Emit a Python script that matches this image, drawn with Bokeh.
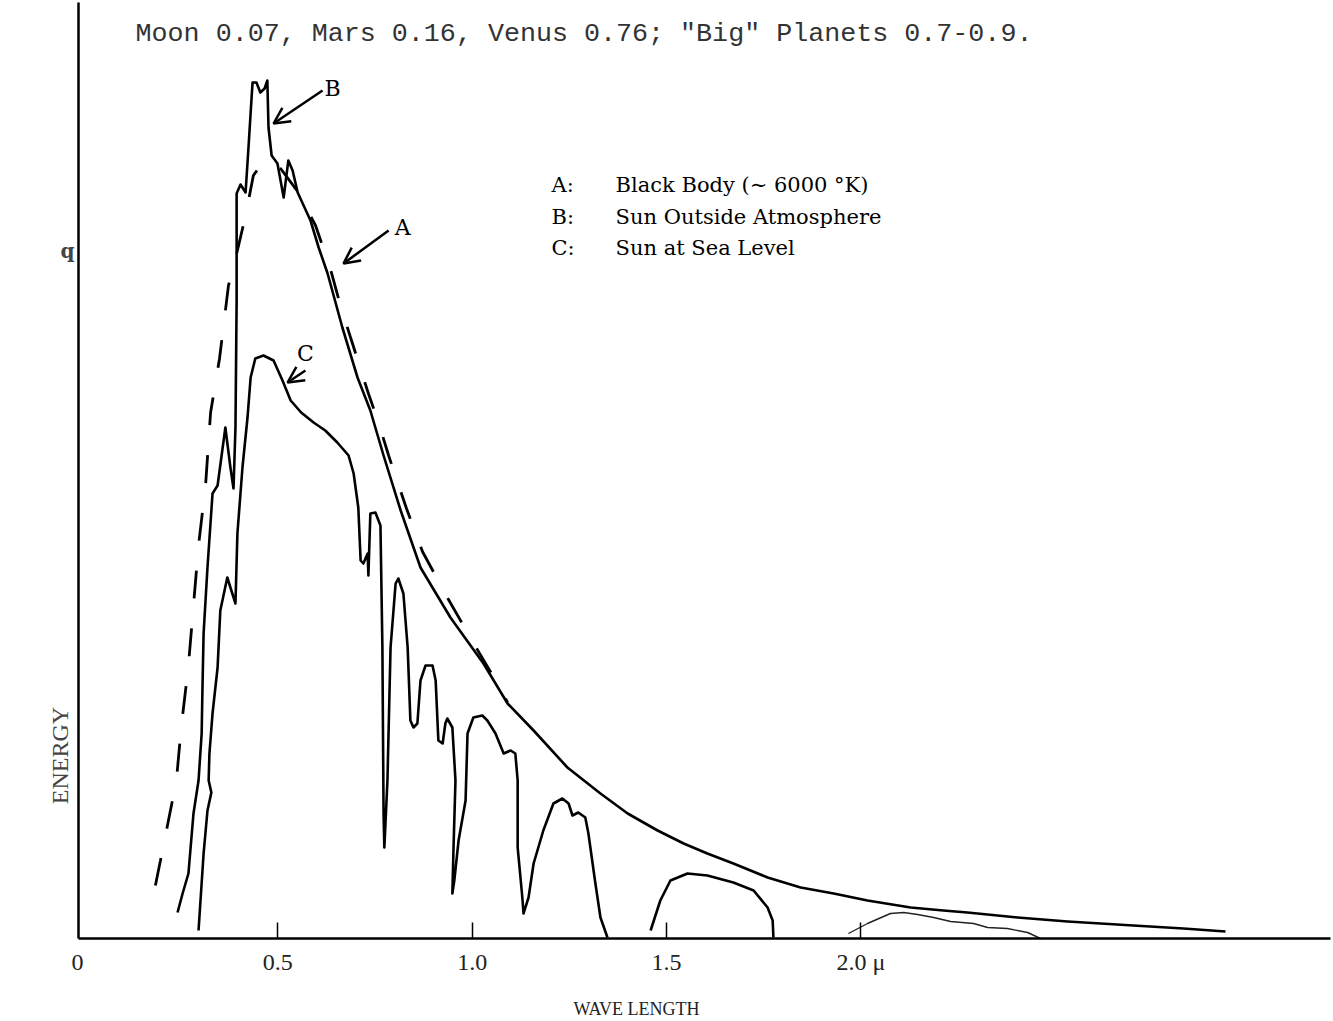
import math
from bokeh.plotting import figure
from bokeh.models import Range1d, FixedTicker, Label, Arrow, OpenHead
from bokeh.embed import file_html
from bokeh.resources import INLINE

NaN = float("nan")

# ---- Curve A: black body (~6000 K), dashed (merges with B beyond ~1.1 micron)
a_wavelength = [0.185, 0.198, 0.216, 0.239, 0.252, 0.270, 0.283, 0.296, 0.314, 0.327,
                0.350, 0.373, 0.396, 0.417, 0.437, 0.461, 0.481, 0.507, 0.553, 0.597,
                0.635, 0.661, 0.692, 0.733, 0.759, 0.785, 0.831, 0.872, 0.939, 1.001,
                1.065, 1.091]
a_energy = [5.3, 7.8, 11.3, 15.8, 21.3, 27.3, 33.3, 39.3, 45.3, 52.6,
            58.0, 65.3, 68.8, 72.3, 76.3, 77.6, 77.8, 77.0, 74.6, 71.3,
            67.0, 63.3, 59.5, 54.5, 51.6, 48.3, 43.0, 38.7, 33.9, 29.7,
            25.5, 23.6]

# ---- Curve B: sun outside atmosphere
b_wavelength = [0.242, 0.255, 0.270, 0.283, 0.296, 0.304, 0.306, 0.309, 0.314, 0.319,
                0.332, 0.345, 0.365, 0.378, 0.386, 0.391, 0.394, 0.394, 0.404, 0.417,
                0.424, 0.432, 0.435, 0.445, 0.455, 0.466, 0.473, 0.476, 0.484, 0.499,
                0.515, 0.527, 0.538, 0.551, 0.584, 0.605, 0.628, 0.666, 0.705, 0.738,
                0.772, 0.816, 0.867, 0.944, 1.029, 1.091, 1.158, 1.245, 1.330, 1.400,
                1.477, 1.544, 1.605, 1.672, 1.760, 1.845, 1.930, 2.017, 2.128, 2.212,
                2.274, 2.403, 2.532, 2.701, 2.830, 2.938]
b_energy = [2.6, 4.5, 6.5, 12.5, 15.8, 20.5, 24.8, 30.5, 33.8, 37.1,
            44.5, 45.3, 51.1, 47.1, 45.0, 51.1, 63.8, 74.5, 75.4, 74.6,
            78.8, 83.8, 85.6, 85.6, 84.6, 85.0, 85.8, 81.1, 78.3, 77.5,
            74.1, 77.8, 76.8, 74.6, 71.8, 69.1, 66.5, 61.1, 56.1, 52.8,
            48.3, 42.8, 37.1, 32.1, 27.5, 23.5, 20.8, 17.1, 14.5, 12.5,
            10.8, 9.5, 8.5, 7.5, 6.1, 5.1, 4.5, 3.8, 3.1, 2.8,
            2.6, 2.1, 1.7, 1.3, 1.0, 0.7]

# ---- Curve C: sun at sea level (windows separated by NaN breaks)
c_wavelength = [0.296, 0.309, 0.319, 0.329, 0.322, 0.324, 0.332, 0.345, 0.352, 0.370,
                0.378, 0.391, 0.396, 0.409, 0.422, 0.430, 0.442, 0.463, 0.489, 0.512,
                0.533, 0.560, 0.592, 0.622, 0.653, 0.682, 0.695, 0.707, 0.713, 0.720,
                0.731, 0.733,
                0.738, 0.751, 0.764, 0.769, 0.772, 0.774, 0.782, 0.790, 0.803, 0.810,
                0.823, 0.834, 0.841, 0.849, 0.859, 0.867, 0.880, 0.898, 0.906, 0.913,
                0.924, 0.931, 0.936, 0.949, 0.957, 0.952, 0.949, 0.954, 0.965, 0.983,
                0.988, 1.003, 1.026, 1.039, 1.060, 1.081, 1.099, 1.111, 1.117, 1.117,
                1.129, 1.132, 1.145, 1.158, 1.183, 1.209, 1.232, 1.248, 1.258, 1.273,
                1.291, 1.299, 1.317, 1.330, 1.348,
                NaN,
                1.459, 1.484, 1.510, 1.554, 1.605, 1.672, 1.724, 1.760, 1.773, 1.775]
c_energy = [0.8, 8.5, 12.8, 14.6, 15.8, 18.5, 22.5, 27.1, 32.8, 36.1,
            35.1, 33.5, 40.5, 47.1, 52.1, 56.1, 58.0, 58.3, 57.8, 55.8,
            53.8, 52.6, 51.6, 50.8, 49.6, 48.3, 46.5, 43.1, 37.8, 37.5,
            38.5, 36.3,
            42.5, 42.6, 41.3, 29.1, 12.5, 9.1, 15.8, 29.1, 35.5, 36.0,
            34.5, 29.1, 21.8, 21.1, 21.5, 25.8, 27.3, 27.3, 25.8, 19.8,
            19.5, 21.5, 22.0, 21.1, 15.8, 9.1, 4.5, 5.8, 9.8, 13.8,
            20.5, 22.1, 22.3, 21.8, 20.5, 18.5, 18.8, 18.5, 15.8, 9.1,
            4.1, 2.5, 4.1, 7.5, 10.8, 13.5, 14.0, 13.5, 12.3, 12.6,
            12.1, 10.5, 5.5, 2.1, 0.1,
            NaN,
            0.8, 3.8, 5.8, 6.5, 6.3, 5.6, 4.8, 3.1, 1.8, 0.1]
c_far_wavelength = [1.968, 2.017, 2.076, 2.110, 2.146, 2.187, 2.231, 2.290, 2.326, 2.377,
                    2.429, 2.462]
c_far_energy = [0.5, 1.5, 2.5, 2.6, 2.4, 2.1, 1.7, 1.5, 1.1, 1.0, 0.6, 0.0]

tick_values = [0.5, 1.0, 1.5, 2.0]
tick_labels = {0.5: "0.5", 1.0: "1.0", 1.5: "1.5", 2.0: "2.0 \u03bc"}

note_text = 'Moon 0.07, Mars 0.16, Venus 0.76; "Big" Planets 0.7-0.9.'
legend_keys = ["A:", "B:", "C:"]
legend_names = ["Black Body (\u223c 6000 \u00b0K)", "Sun Outside Atmosphere", "Sun at Sea Level"]
legend_rows = [75.4, 72.2, 69.1]

SERIF = "DejaVu Serif"
TIMES = "Liberation Serif"

X0, X1 = -0.2135, 3.2133
p = figure(width=1332, height=1020, output_backend="svg", toolbar_location=None,
           x_range=Range1d(X0, X1), y_range=Range1d(-8.2, 93.8),
           min_border=0, min_border_left=0, min_border_right=0,
           min_border_top=0, min_border_bottom=0)
p.outline_line_color = None
p.grid.visible = False
p.background_fill_color = "white"
p.border_fill_color = "white"

# axes drawn inside the frame at fixed positions
xa = p.xaxis[0]
xa.fixed_location = 0
xa.bounds = (-0.0129, 3.2081)
xa.ticker = FixedTicker(ticks=tick_values)
xa.major_label_overrides = tick_labels
xa.major_tick_in = 16
xa.major_tick_out = 0
xa.major_tick_line_width = 1.5
xa.minor_tick_line_color = None
xa.axis_line_width = 2.5
xa.major_label_text_font = TIMES
xa.major_label_text_font_size = "24px"
xa.major_label_standoff = 10
xa.major_label_text_color = "#222222"

ya = p.yaxis[0]
ya.fixed_location = -0.0129
ya.bounds = (0, 93.6)
ya.ticker = FixedTicker(ticks=[])
ya.major_tick_line_color = None
ya.minor_tick_line_color = None
ya.major_label_text_font_size = "0px"
ya.axis_line_width = 2.5

# curves
p.line(a_wavelength, a_energy, line_color="black", line_width=2.8, line_dash="28 30")
p.line(b_wavelength, b_energy, line_color="black", line_width=2.6, line_join="round")
p.line(c_wavelength, c_energy, line_color="black", line_width=2.6, line_join="round")
p.line(c_far_wavelength, c_far_energy, line_color="#222222", line_width=1.4)

# arrows with letters
arrows = [((0.615, 84.8), (0.489, 81.5)), ((0.785, 70.8), (0.669, 67.5)), ((0.571, 56.8), (0.525, 55.6))]
for (xs, ys), (xe, ye) in arrows:
    p.add_layout(Arrow(end=OpenHead(size=16, line_width=2.5, line_color="black"),
                       x_start=xs, y_start=ys, x_end=xe, y_end=ye,
                       line_width=2.5, line_color="black"))
for txt, x, y in [("B", 0.641, 85.0), ("A", 0.821, 71.1), ("C", 0.571, 58.5)]:
    p.add_layout(Label(x=x, y=y, text=txt, text_font=SERIF, text_font_size="22px",
                       text_align="center", text_baseline="middle", text_color="black"))

# legend text
for k, n, yy in zip(legend_keys, legend_names, legend_rows):
    p.add_layout(Label(x=1.204, y=yy, text=k, text_font=SERIF, text_font_size="21px",
                       text_baseline="middle", text_color="black"))
    p.add_layout(Label(x=1.369, y=yy, text=n, text_font=SERIF, text_font_size="21px",
                       text_baseline="middle", text_color="black"))

# top note
p.add_layout(Label(x=0.134, y=90.5, text=note_text, text_font="Liberation Mono",
                   text_font_size="26.7px", text_baseline="middle", text_color="#333333"))

# labels around the axes
p.add_layout(Label(x=-0.0154, y=-2.4, text="0", text_font=TIMES, text_font_size="24px",
                   text_align="center", text_baseline="middle", text_color="#222222"))
p.add_layout(Label(x=-0.0412, y=68.8, text="q", text_font=SERIF, text_font_size="20px",
                   text_font_style="bold", text_align="center", text_baseline="middle"))
p.add_layout(Label(x=-0.0592, y=18.3, text="ENERGY", text_font=TIMES, text_font_size="24px",
                   angle=math.pi / 2, text_align="center", text_baseline="middle"))
p.add_layout(Label(x=1.4227, y=-7.0, text="WAVE LENGTH", text_font=TIMES, text_font_size="18px",
                   text_align="center", text_baseline="middle", text_color="#222222"))

open("out.html", "w").write(file_html(p, INLINE))
